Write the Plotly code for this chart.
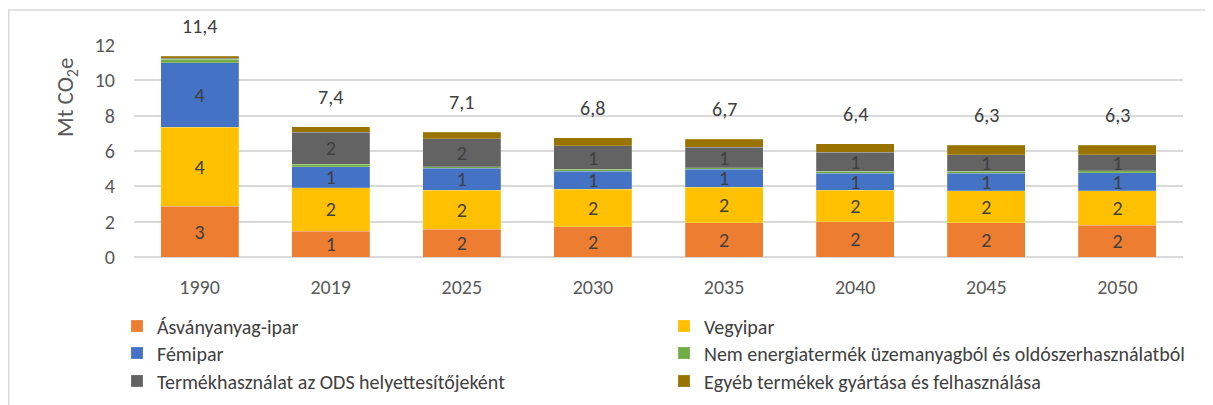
import plotly.graph_objects as go

years = ["1990", "2019", "2025", "2030", "2035", "2040", "2045", "2050"]
asvanyanyag = [2.86, 1.47, 1.56, 1.71, 1.94, 2.00, 1.94, 1.80]
vegyipar = [4.49, 2.44, 2.23, 2.13, 2.00, 1.77, 1.80, 1.94]
femipar = [3.65, 1.21, 1.22, 1.00, 1.02, 0.98, 1.01, 1.04]
nem_energia = [0.19, 0.14, 0.09, 0.13, 0.09, 0.09, 0.09, 0.09]
ods = [0.05, 1.79, 1.60, 1.32, 1.15, 1.08, 0.96, 0.91]
egyeb = [0.12, 0.33, 0.36, 0.47, 0.47, 0.50, 0.52, 0.54]

series = [
    ("Ásványanyag-ipar", asvanyanyag, "#ED7D31", True, "legend"),
    ("Vegyipar", vegyipar, "#FFC000", True, "legend"),
    ("Fémipar", femipar, "#4472C4", True, "legend2"),
    ("Nem energiatermék üzemanyagból és oldószerhasználatból", nem_energia, "#70AD47", False, "legend2"),
    ("Termékhasználat az ODS helyettesítőjeként", ods, "#636363", True, "legend3"),
    ("Egyéb termékek gyártása és felhasználása", egyeb, "#997300", False, "legend3"),
]

FONT = "Carlito, Calibri, Lato, sans-serif"
TXT = "#404040"

fig = go.Figure()
for name, vals, color, labelled, leg in series:
    text = [f"{round(v):d}" if (labelled and v >= 0.5) else "" for v in vals]
    fig.add_trace(go.Bar(
        x=years, y=vals, name=name, legend=leg,
        marker=dict(color=color, line=dict(color="rgba(255,255,255,0.4)", width=0.5)),
        text=text, textposition="inside", insidetextanchor="middle",
        textangle=0, constraintext="none",
        textfont=dict(family=FONT, size=20, color=TXT),
        hoverinfo="x+y+name",
    ))

totals = [sum(v) for v in zip(asvanyanyag, vegyipar, femipar, nem_energia, ods, egyeb)]
for i, t in enumerate(totals):
    fig.add_annotation(xref="x", yref="y", x=i, y=t, text=f"{t:.1f}".replace(".", ","),
                       showarrow=False, yanchor="middle", yshift=30,
                       font=dict(family=FONT, size=20, color=TXT))

# figure is drawn 8px in from the page corner, so layout pixels = page pixels - 8
OFF = 8
W, H = 1213, 405
ml, mr, mt, mb = 134 - OFF, 30 + OFF, 45 - OFF, 148 + OFF
pw, ph = W - ml - mr, H - mt - mb

def px_x(p):
    return (p - OFF - ml) / pw

def px_y(p):
    return (H - mb - (p - OFF)) / ph

fig.add_annotation(xref="paper", yref="paper", x=px_x(66), y=px_y(98),
                   text="Mt CO<sub>2</sub>e", textangle=-90, showarrow=False,
                   xanchor="center", yanchor="middle",
                   font=dict(family=FONT, size=23, color="#595959"))

fig.add_shape(type="rect", xref="paper", yref="paper",
              x0=px_x(8.75), y0=px_y(440), x1=px_x(1260), y1=px_y(10),
              line=dict(color="#d9d9d9", width=1.5), fillcolor="rgba(0,0,0,0)", layer="below")

leg_common = dict(orientation="h", entrywidth=502, entrywidthmode="pixels",
                  font=dict(family=FONT, size=20, color=TXT),
                  xanchor="left", yanchor="middle", traceorder="normal",
                  bgcolor="rgba(0,0,0,0)")

fig.update_layout(
    width=W, height=H,
    margin=dict(l=ml, r=mr, t=mt, b=mb, autoexpand=False),
    barmode="stack", bargap=0.405,
    plot_bgcolor="white", paper_bgcolor="white",
    font=dict(family=FONT, size=20, color="#595959"),
    showlegend=True,
    legend=dict(x=px_x(117), y=px_y(326), **leg_common),
    legend2=dict(x=px_x(117), y=px_y(353), **leg_common),
    legend3=dict(x=px_x(117), y=px_y(381), **leg_common),
    xaxis=dict(type="category", showgrid=False, showline=False, ticks="", ticklabelstandoff=16,
               tickfont=dict(family=FONT, size=20, color="#595959")),
    yaxis=dict(range=[0, 12], dtick=2, showgrid=True, gridcolor="#d9d9d9", gridwidth=1.5,
               zeroline=True, zerolinecolor="#d9d9d9", zerolinewidth=1.5,
               showline=False, ticks="", ticklabelstandoff=18,
               tickfont=dict(family=FONT, size=20, color="#595959")),
)

fig.write_html("out.html")
